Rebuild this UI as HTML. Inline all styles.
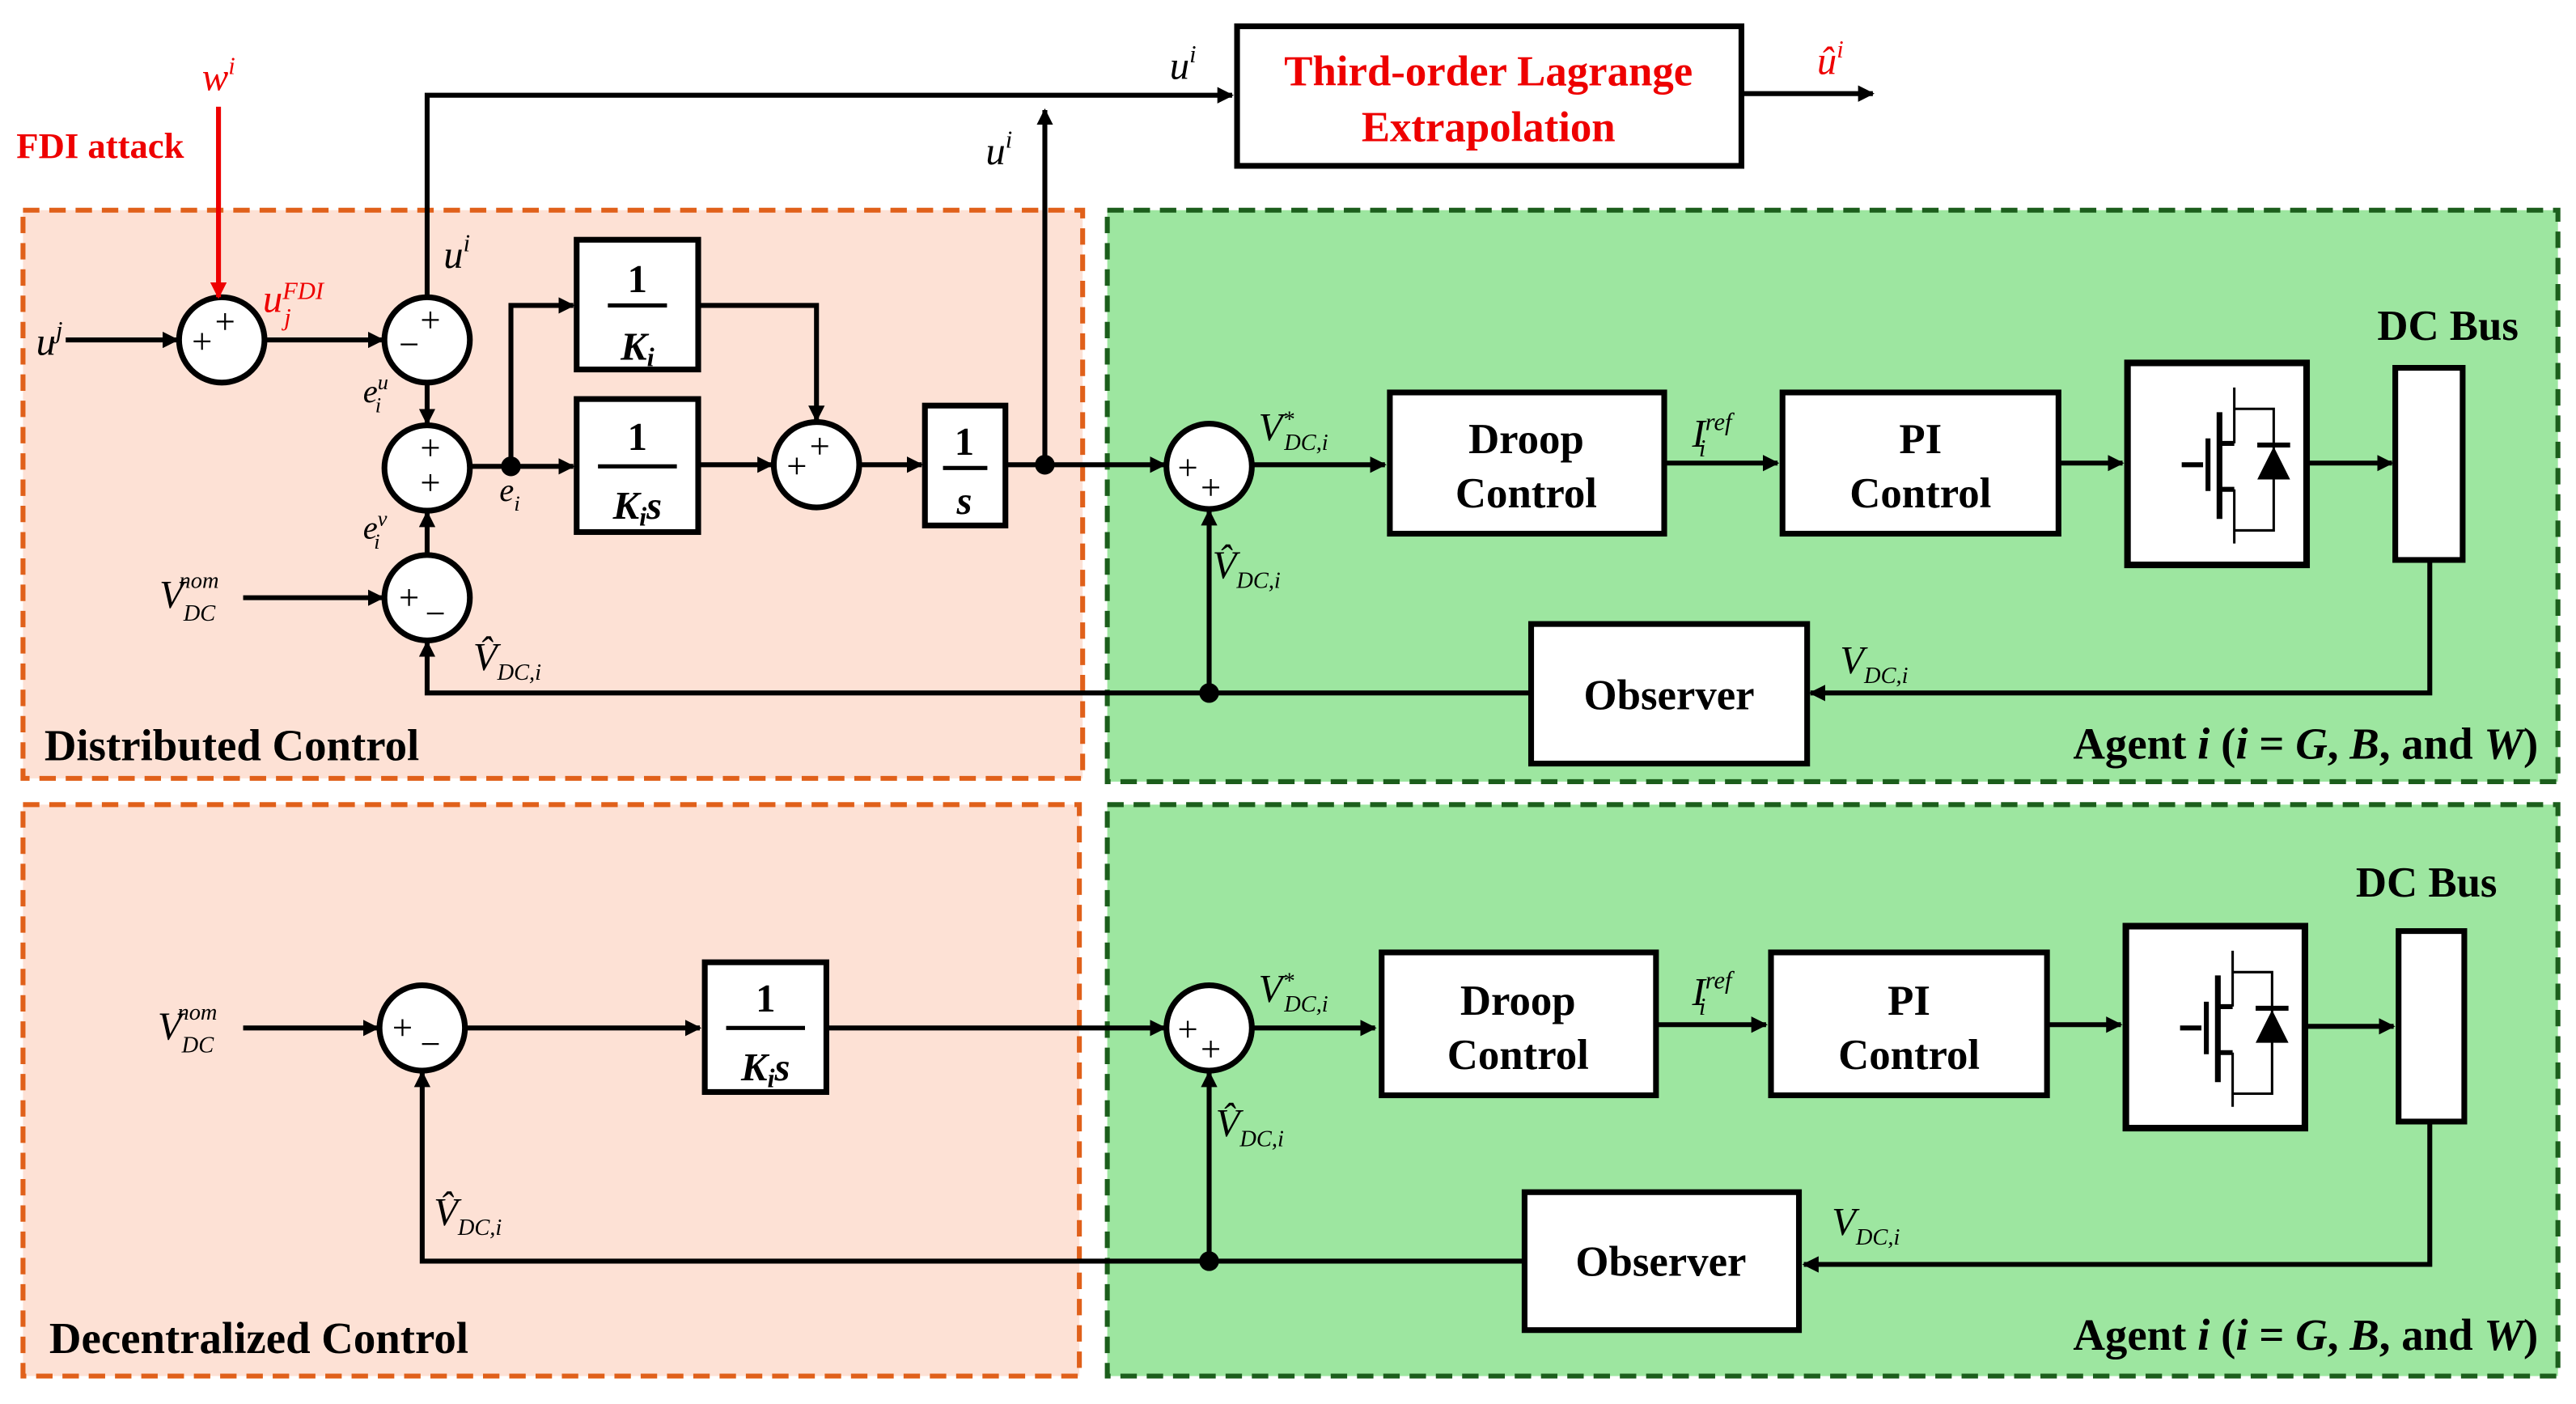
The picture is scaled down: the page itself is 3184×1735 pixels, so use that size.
<!DOCTYPE html>
<html><head><meta charset="utf-8"><style>
html,body{margin:0;padding:0;background:#fff}
svg{display:block}
text{font-family:"Liberation Serif",serif}
.b{font-weight:bold}
.i{font-style:italic}
</style></head><body>
<svg width="3184" height="1735" viewBox="0 0 1568 855" preserveAspectRatio="none" xmlns="http://www.w3.org/2000/svg">
<defs>
<marker id="a" markerWidth="10" markerHeight="10" refX="9" refY="5" orient="auto" markerUnits="userSpaceOnUse" viewBox="0 0 10 10"><path d="M0,0 L10,5 L0,10 Z" fill="#000"/></marker>
<marker id="r" markerWidth="10" markerHeight="10" refX="9" refY="5" orient="auto" markerUnits="userSpaceOnUse" viewBox="0 0 10 10"><path d="M0,0 L10,5 L0,10 Z" fill="#e00"/></marker>
<g id="sw">
<rect x="0" y="0" width="109" height="123" fill="#fff" stroke="#000" stroke-width="4"/>
<path d="M33,62 H46 M49,46 V78" stroke="#000" stroke-width="3" fill="none"/>
<path d="M56,30 V95" stroke="#000" stroke-width="3.5"/>
<path d="M56,49 H65 M56,77 H65" stroke="#000" stroke-width="3"/>
<path d="M65,15 V49 M65,77 V110 M65,28 H89 V102 H65" stroke="#000" stroke-width="1.5" fill="none"/>
<path d="M79,50 H99" stroke="#000" stroke-width="3"/>
<path d="M79,71 L99,71 L89,51 Z" fill="#000"/>
</g>
</defs>

<rect x="14" y="128" width="645" height="346" fill="#fde1d5" stroke="#e0601a" stroke-width="3" stroke-dasharray="10,6"/>
<rect x="674" y="128" width="883" height="348" fill="#9de6a0" stroke="#1c5e1c" stroke-width="3" stroke-dasharray="10,6"/>
<rect x="14" y="490" width="643" height="348" fill="#fde1d5" stroke="#e0601a" stroke-width="3" stroke-dasharray="10,6"/>
<rect x="674" y="490" width="883" height="348" fill="#9de6a0" stroke="#1c5e1c" stroke-width="3" stroke-dasharray="10,6"/>

<g fill="#fff" stroke="#000" stroke-width="3.5">
<circle cx="135" cy="207" r="26"/><circle cx="260" cy="207" r="26"/><circle cx="260" cy="285" r="26"/>
<circle cx="260" cy="364" r="26"/><circle cx="497" cy="283" r="26"/><circle cx="736" cy="284" r="26"/>
<circle cx="257" cy="626" r="26"/><circle cx="736" cy="626" r="26"/>
</g>

<g stroke="#000" stroke-width="3" fill="none">
<path d="M260,181 V58 H750" marker-end="url(#a)"/>
<path d="M636,283 V67" marker-end="url(#a)"/>
<path d="M1060,57 H1140" marker-end="url(#a)"/>
<path d="M40,207 H108" marker-end="url(#a)"/>
<path d="M161,207 H233" marker-end="url(#a)"/>
<path d="M260,233 V258" marker-end="url(#a)"/>
<path d="M260,338 V312" marker-end="url(#a)"/>
<path d="M148,364 H233" marker-end="url(#a)"/>
<path d="M286,284 H349" marker-end="url(#a)"/>
<path d="M311,284 V186 H349" marker-end="url(#a)"/>
<path d="M425,186 H497 V256" marker-end="url(#a)"/>
<path d="M425,283 H470" marker-end="url(#a)"/>
<path d="M523,283 H561" marker-end="url(#a)"/>
<path d="M612,283 H709" marker-end="url(#a)"/>
<path d="M762,283 H843" marker-end="url(#a)"/>
<path d="M1013,282 H1082" marker-end="url(#a)"/>
<path d="M1253,282 H1292" marker-end="url(#a)"/>
<path d="M1404,282 H1456" marker-end="url(#a)"/>
<path d="M1479,341 V422 H1102" marker-end="url(#a)"/>
<path d="M932,422 H260 V391" marker-end="url(#a)"/>
<path d="M736,422 V311" marker-end="url(#a)"/>
<path d="M148,626 H230" marker-end="url(#a)"/>
<path d="M283,626 H426" marker-end="url(#a)"/>
<path d="M503,626 H709" marker-end="url(#a)"/>
<path d="M762,626 H837" marker-end="url(#a)"/>
<path d="M1008,624 H1075" marker-end="url(#a)"/>
<path d="M1246,624 H1291" marker-end="url(#a)"/>
<path d="M1404,625 H1457" marker-end="url(#a)"/>
<path d="M1479,683 V770 H1098" marker-end="url(#a)"/>
<path d="M928,768 H257 V653" marker-end="url(#a)"/>
<path d="M736,768 V653" marker-end="url(#a)"/>
</g>
<path d="M133,65 V181" stroke="#e00" stroke-width="3" marker-end="url(#r)"/>
<circle cx="311" cy="284" r="6"/><circle cx="636" cy="283" r="6"/><circle cx="736" cy="422" r="6"/><circle cx="736" cy="768" r="6"/>

<g font-size="22" text-anchor="middle" font-family="Liberation Sans">
<text x="123" y="215">+</text><text x="137" y="203">+</text>
<text x="262" y="202">+</text><text x="249" y="217">−</text>
<text x="262" y="280">+</text><text x="262" y="301">+</text>
<text x="249" y="371">+</text><text x="265" y="381">−</text>
<text x="485" y="291">+</text><text x="499" y="279">+</text>
<text x="723" y="292">+</text><text x="737" y="304">+</text>
<text x="245" y="633">+</text><text x="262" y="643">−</text>
<text x="723" y="634">+</text><text x="737" y="646">+</text>
</g>

<g fill="#fff" stroke="#000" stroke-width="3.5">
<rect x="753" y="16" width="307" height="85"/>
<rect x="351" y="146" width="74" height="79"/>
<rect x="351" y="243" width="74" height="81"/>
<rect x="563" y="247" width="49" height="73"/>
<rect x="846" y="239" width="167" height="86"/>
<rect x="1085" y="239" width="168" height="86"/>
<rect x="1458" y="224" width="41" height="117"/>
<rect x="932" y="380" width="168" height="85"/>
<rect x="429" y="586" width="74" height="79"/>
<rect x="841" y="580" width="167" height="87"/>
<rect x="1078" y="580" width="168" height="87"/>
<rect x="1460" y="567" width="40" height="116"/>
<rect x="928" y="726" width="167" height="84"/>
</g>
<use href="#sw" x="1295" y="221"/>
<use href="#sw" x="1294" y="564"/>
<g stroke="#000" stroke-width="2.5">
<path d="M370,186 H406 M364,284 H412 M574,285 H601 M442,626 H490"/>
</g>

<g class="b" text-anchor="middle" font-size="26">
<text x="906" y="52" fill="#e00">Third-order Lagrange</text>
<text x="906" y="86" fill="#e00">Extrapolation</text>
<text x="929" y="276">Droop</text><text x="929" y="309">Control</text>
<text x="1169" y="276">PI</text><text x="1169" y="309">Control</text>
<text x="1016" y="432">Observer</text>
<text x="924" y="618">Droop</text><text x="924" y="651">Control</text>
<text x="1162" y="618">PI</text><text x="1162" y="651">Control</text>
<text x="1011" y="777">Observer</text>
<text x="1490" y="207">DC Bus</text>
<text x="1477" y="546">DC Bus</text>
</g>
<g class="b" text-anchor="middle" font-family="Liberation Sans" font-size="24">
<text x="388" y="178">1</text><text x="388" y="219" class="i">K<tspan font-size="16" dy="4">i</tspan></text>
<text x="388" y="274">1</text><text x="388" y="316" class="i">K<tspan font-size="16" dy="4">i</tspan><tspan dy="-4">s</tspan></text>
<text x="587" y="277">1</text><text x="587" y="313" class="i">s</text>
<text x="466" y="616">1</text><text x="466" y="658" class="i">K<tspan font-size="16" dy="4">i</tspan><tspan dy="-4">s</tspan></text>
</g>
<g class="b" font-size="27">
<text x="27" y="463">Distributed Control</text>
<text x="30" y="824">Decentralized Control</text>
<text x="1545" y="462" text-anchor="end">Agent <tspan class="i">i</tspan> (<tspan class="i">i</tspan> = <tspan class="i">G</tspan>, <tspan class="i">B</tspan>, and <tspan class="i">W</tspan>)</text>
<text x="1545" y="822" text-anchor="end">Agent <tspan class="i">i</tspan> (<tspan class="i">i</tspan> = <tspan class="i">G</tspan>, <tspan class="i">B</tspan>, and <tspan class="i">W</tspan>)</text>
</g>
<text x="10" y="96" class="b" font-size="22" fill="#e00">FDI attack</text>

<g class="i" font-size="24">
<text x="123" y="55" fill="#e00">w<tspan font-size="15" dy="-10">i</tspan></text>
<text x="160" y="190" fill="#e00">u<tspan font-size="15" dy="-8">FDI</tspan><tspan font-size="15" dx="-24" dy="16">j</tspan></text>
<text x="712" y="48">u<tspan font-size="15" dy="-10">i</tspan></text>
<text x="1106" y="45" fill="#e00">û<tspan font-size="15" dy="-10">i</tspan></text>
<text x="600" y="100">u<tspan font-size="15" dy="-10">i</tspan></text>
<text x="270" y="163">u<tspan font-size="15" dy="-10">i</tspan></text>
<text x="22" y="216">u<tspan font-size="15" dy="-10">j</tspan></text>
<text x="221" y="245" font-size="20">e<tspan font-size="13" dy="-8">u</tspan><tspan font-size="13" dx="-8" dy="14">i</tspan></text>
<text x="304" y="305" font-size="20">e<tspan font-size="13" dy="6">i</tspan></text>
<text x="221" y="328" font-size="20">e<tspan font-size="13" dy="-8">v</tspan><tspan font-size="13" dx="-8" dy="14">i</tspan></text>
<text x="97" y="370">V<tspan font-size="14" dy="8">DC</tspan><tspan font-size="14" dx="-22" dy="-20">nom</tspan></text>
<text x="96" y="633">V<tspan font-size="14" dy="8">DC</tspan><tspan font-size="14" dx="-22" dy="-20">nom</tspan></text>
<text x="288" y="408">V̂<tspan font-size="14" dy="6">DC,i</tspan></text>
<text x="738" y="352">V̂<tspan font-size="14" dy="6">DC,i</tspan></text>
<text x="766" y="268">V<tspan font-size="14" dy="-8">*</tspan><tspan font-size="14" dx="-6" dy="14">DC,i</tspan></text>
<text x="1030" y="272">I<tspan font-size="15" dy="-10">ref</tspan><tspan font-size="15" dx="-20" dy="16">i</tspan></text>
<text x="1120" y="410">V<tspan font-size="14" dy="6">DC,i</tspan></text>
<text x="264" y="746">V̂<tspan font-size="14" dy="6">DC,i</tspan></text>
<text x="740" y="692">V̂<tspan font-size="14" dy="6">DC,i</tspan></text>
<text x="766" y="610">V<tspan font-size="14" dy="-8">*</tspan><tspan font-size="14" dx="-6" dy="14">DC,i</tspan></text>
<text x="1030" y="612">I<tspan font-size="15" dy="-10">ref</tspan><tspan font-size="15" dx="-20" dy="16">i</tspan></text>
<text x="1115" y="752">V<tspan font-size="14" dy="6">DC,i</tspan></text>
</g>
</svg>
</body></html>
